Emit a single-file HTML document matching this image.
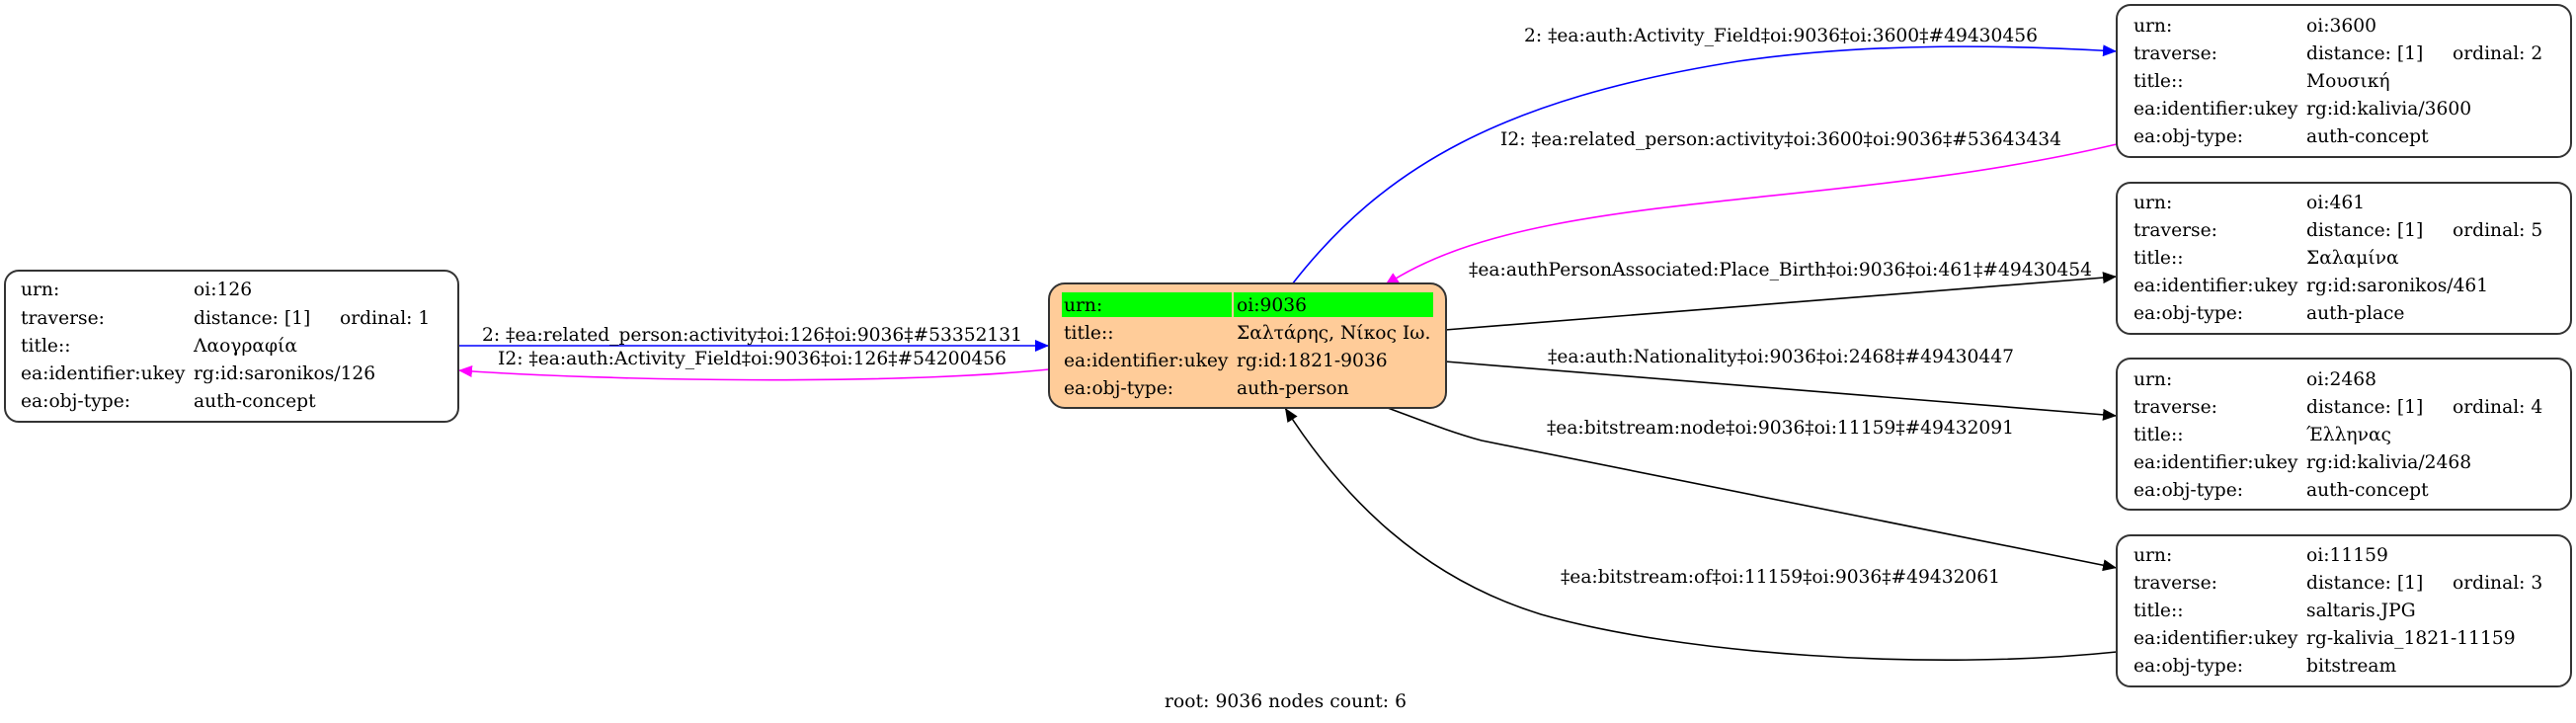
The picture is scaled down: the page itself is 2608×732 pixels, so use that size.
<!DOCTYPE html>
<html><head><meta charset="utf-8"><style>
html,body{margin:0;padding:0;background:#fff;}
svg{display:block;}
text{font-family:"DejaVu Serif","Liberation Serif",serif;font-size:18.67px;fill:#000;}
</style></head><body>
<svg width="2608" height="732" viewBox="0 0 2608 732" xmlns="http://www.w3.org/2000/svg">
<defs>
<marker id="ab" markerUnits="userSpaceOnUse" markerWidth="16" markerHeight="12" refX="14" refY="6" orient="auto"><path d="M0,0 L14,6 L0,12 Z" fill="#0000ff"/></marker>
<marker id="am" markerUnits="userSpaceOnUse" markerWidth="16" markerHeight="12" refX="14" refY="6" orient="auto"><path d="M0,0 L14,6 L0,12 Z" fill="#ff00ff"/></marker>
<marker id="ak" markerUnits="userSpaceOnUse" markerWidth="16" markerHeight="12" refX="14" refY="6" orient="auto"><path d="M0,0 L14,6 L0,12 Z" fill="#000"/></marker>
</defs>

<g fill="none" stroke-width="1.6">
<path d="M464,350 L1062,350" stroke="#0000ff" marker-end="url(#ab)"/>
<path d="M1062,374 C900,390 620,386 464,375" stroke="#ff00ff" marker-end="url(#am)"/>
<path d="M1308,288 C1400,170 1520,100 1760,62 C1900,42 2040,46 2143,52" stroke="#0000ff" marker-end="url(#ab)"/>
<path d="M2143,146 C1850,215 1550,190 1402,289" stroke="#ff00ff" marker-end="url(#am)"/>
<path d="M1463,334 L2143,280" stroke="#000" marker-end="url(#ak)"/>
<path d="M1463,366 L2143,421" stroke="#000" marker-end="url(#ak)"/>
<path d="M1405,413 C1440,426 1470,438 1500,446 L2143,575" stroke="#000" marker-end="url(#ak)"/>
<path d="M2143,660 C1950,680 1700,662 1560,622 C1440,585 1360,505 1301,413" stroke="#000" marker-end="url(#ak)"/>
</g>

<text x="488" y="345" textLength="547">2: ‡ea:related_person:activity‡oi:126‡oi:9036‡#53352131</text>
<text x="504" y="369" textLength="515">I2: ‡ea:auth:Activity_Field‡oi:9036‡oi:126‡#54200456</text>
<text x="1543" y="42" textLength="520">2: ‡ea:auth:Activity_Field‡oi:9036‡oi:3600‡#49430456</text>
<text x="1519" y="147" textLength="568">I2: ‡ea:related_person:activity‡oi:3600‡oi:9036‡#53643434</text>
<text x="1487" y="279" textLength="631">‡ea:authPersonAssociated:Place_Birth‡oi:9036‡oi:461‡#49430454</text>
<text x="1567" y="367" textLength="472">‡ea:auth:Nationality‡oi:9036‡oi:2468‡#49430447</text>
<text x="1566" y="439" textLength="473">‡ea:bitstream:node‡oi:9036‡oi:11159‡#49432091</text>
<text x="1580" y="590" textLength="445">‡ea:bitstream:of‡oi:11159‡oi:9036‡#49432061</text>
<text x="1179" y="716" textLength="245">root: 9036 nodes count: 6</text>

<rect x="5" y="274" width="459" height="153" rx="14" fill="#fff" stroke="#333" stroke-width="2"/>
<text x="21" y="299">urn:</text><text x="196" y="299">oi:126</text>
<text x="21" y="328">traverse:</text><text x="196" y="328">distance: [1]</text><text x="344" y="328">ordinal: 1</text>
<text x="21" y="356">title::</text><text x="196" y="356">Λαογραφία</text>
<text x="21" y="384">ea:identifier:ukey</text><text x="196" y="384">rg:id:saronikos/126</text>
<text x="21" y="412">ea:obj-type:</text><text x="196" y="412">auth-concept</text>

<rect x="1062" y="287" width="402" height="126" rx="16" fill="#ffcc99" stroke="#333" stroke-width="2"/>
<rect x="1075" y="296" width="172" height="25" fill="#00ff00"/>
<rect x="1249" y="296" width="202" height="25" fill="#00ff00"/>
<text x="1077" y="315">urn:</text><text x="1252" y="315">oi:9036</text>
<text x="1077" y="343">title::</text><text x="1252" y="343">Σαλτάρης, Νίκος Ιω.</text>
<text x="1077" y="371">ea:identifier:ukey</text><text x="1252" y="371">rg:id:1821-9036</text>
<text x="1077" y="399">ea:obj-type:</text><text x="1252" y="399">auth-person</text>

<rect x="2143" y="5" width="460" height="154" rx="14" fill="#fff" stroke="#333" stroke-width="2"/>
<text x="2160" y="32">urn:</text><text x="2335" y="32">oi:3600</text>
<text x="2160" y="60">traverse:</text><text x="2335" y="60">distance: [1]</text><text x="2483" y="60">ordinal: 2</text>
<text x="2160" y="88">title::</text><text x="2335" y="88">Μουσική</text>
<text x="2160" y="116">ea:identifier:ukey</text><text x="2335" y="116">rg:id:kalivia/3600</text>
<text x="2160" y="144">ea:obj-type:</text><text x="2335" y="144">auth-concept</text>

<rect x="2143" y="185" width="460" height="153" rx="14" fill="#fff" stroke="#333" stroke-width="2"/>
<text x="2160" y="211">urn:</text><text x="2335" y="211">oi:461</text>
<text x="2160" y="239">traverse:</text><text x="2335" y="239">distance: [1]</text><text x="2483" y="239">ordinal: 5</text>
<text x="2160" y="267">title::</text><text x="2335" y="267">Σαλαμίνα</text>
<text x="2160" y="295">ea:identifier:ukey</text><text x="2335" y="295">rg:id:saronikos/461</text>
<text x="2160" y="323">ea:obj-type:</text><text x="2335" y="323">auth-place</text>

<rect x="2143" y="363" width="460" height="153" rx="14" fill="#fff" stroke="#333" stroke-width="2"/>
<text x="2160" y="390">urn:</text><text x="2335" y="390">oi:2468</text>
<text x="2160" y="418">traverse:</text><text x="2335" y="418">distance: [1]</text><text x="2483" y="418">ordinal: 4</text>
<text x="2160" y="446">title::</text><text x="2335" y="446">Έλληνας</text>
<text x="2160" y="474">ea:identifier:ukey</text><text x="2335" y="474">rg:id:kalivia/2468</text>
<text x="2160" y="502">ea:obj-type:</text><text x="2335" y="502">auth-concept</text>

<rect x="2143" y="542" width="460" height="153" rx="14" fill="#fff" stroke="#333" stroke-width="2"/>
<text x="2160" y="568">urn:</text><text x="2335" y="568">oi:11159</text>
<text x="2160" y="596">traverse:</text><text x="2335" y="596">distance: [1]</text><text x="2483" y="596">ordinal: 3</text>
<text x="2160" y="624">title::</text><text x="2335" y="624">saltaris.JPG</text>
<text x="2160" y="652">ea:identifier:ukey</text><text x="2335" y="652">rg-kalivia_1821-11159</text>
<text x="2160" y="680">ea:obj-type:</text><text x="2335" y="680">bitstream</text>
</svg>
</body></html>
